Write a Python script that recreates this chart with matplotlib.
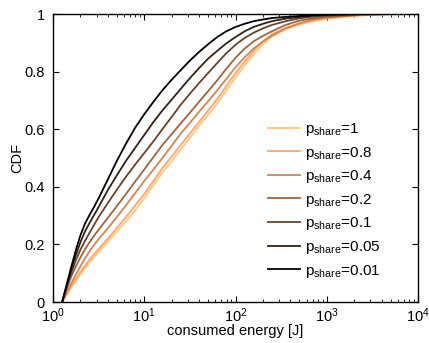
import matplotlib
matplotlib.use("Agg")
import matplotlib.pyplot as plt

plt.rcParams['font.family'] = ['Liberation Sans', 'DejaVu Sans']
plt.rcParams['mathtext.fontset'] = 'custom'
plt.rcParams['mathtext.rm'] = 'Liberation Sans'
plt.rcParams['mathtext.it'] = 'Liberation Sans'
plt.rcParams['mathtext.default'] = 'regular'

# shared energy grid [J]
energy = [1.26, 1.41, 1.58, 1.78, 2.0, 2.24, 2.51, 2.82, 3.16, 3.98, 5.01, 6.31, 7.94,
          10.0, 12.6, 15.8, 20.0, 25.1, 31.6, 39.8, 50.1, 63.1, 79.4, 100.0, 126.0,
          158.0, 200.0, 251.0, 355.0, 501.0, 708.0, 1000.0, 1585.0, 2512.0, 5012.0, 10000.0]

cdf_p001 = [0, 0.06, 0.12, 0.18, 0.232, 0.272, 0.302, 0.33, 0.36, 0.425, 0.49, 0.55, 0.605,
            0.652, 0.695, 0.735, 0.772, 0.805, 0.838, 0.868, 0.895, 0.92, 0.94, 0.955, 0.966,
            0.975, 0.981, 0.986, 0.99, 0.993, 0.996, 0.998, 0.999, 1, 1, 1]
cdf_p005 = [0, 0.055, 0.11, 0.163, 0.208, 0.245, 0.274, 0.302, 0.33, 0.388, 0.44, 0.49, 0.535,
            0.58, 0.625, 0.665, 0.703, 0.74, 0.777, 0.812, 0.845, 0.872, 0.898, 0.92, 0.94,
            0.955, 0.966, 0.975, 0.984, 0.99, 0.994, 0.997, 0.999, 1, 1, 1]
cdf_p01 = [0, 0.05, 0.1, 0.145, 0.182, 0.212, 0.24, 0.268, 0.295, 0.343, 0.39, 0.435, 0.477,
           0.517, 0.558, 0.6, 0.643, 0.685, 0.723, 0.76, 0.795, 0.83, 0.864, 0.893, 0.917,
           0.935, 0.95, 0.962, 0.975, 0.985, 0.991, 0.994, 0.997, 0.999, 1, 1]
cdf_p02 = [0, 0.045, 0.088, 0.124, 0.155, 0.183, 0.207, 0.23, 0.251, 0.292, 0.333, 0.375, 0.418,
           0.46, 0.503, 0.545, 0.583, 0.62, 0.657, 0.695, 0.732, 0.77, 0.81, 0.848, 0.88,
           0.905, 0.924, 0.94, 0.962, 0.977, 0.985, 0.99, 0.994, 0.998, 1, 1]
cdf_p04 = [0, 0.032, 0.064, 0.095, 0.124, 0.151, 0.176, 0.198, 0.218, 0.256, 0.295, 0.336, 0.378,
           0.42, 0.46, 0.5, 0.543, 0.585, 0.622, 0.66, 0.697, 0.735, 0.775, 0.815, 0.85,
           0.88, 0.905, 0.925, 0.95, 0.968, 0.98, 0.987, 0.993, 0.997, 1, 1]
cdf_p08 = [0, 0.028, 0.055, 0.08, 0.104, 0.126, 0.147, 0.166, 0.184, 0.22, 0.257, 0.295, 0.335,
           0.375, 0.42, 0.465, 0.505, 0.545, 0.585, 0.625, 0.665, 0.705, 0.75, 0.795, 0.835,
           0.872, 0.905, 0.93, 0.952, 0.967, 0.978, 0.986, 0.992, 0.996, 0.999, 1]
cdf_p1 = [0, 0.025, 0.05, 0.074, 0.097, 0.118, 0.138, 0.156, 0.174, 0.21, 0.245, 0.28, 0.318,
          0.36, 0.405, 0.45, 0.49, 0.53, 0.57, 0.612, 0.65, 0.69, 0.735, 0.78, 0.822,
          0.86, 0.895, 0.922, 0.947, 0.963, 0.975, 0.984, 0.99, 0.995, 0.999, 1]

labels = ['1', '0.8', '0.4', '0.2', '0.1', '0.05', '0.01']
series = [cdf_p1, cdf_p08, cdf_p04, cdf_p02, cdf_p01, cdf_p005, cdf_p001]
color_levels = [1.0, 5/6, 4/6, 3/6, 2/6, 1/6, 0.0]

fig = plt.figure(figsize=(4.29, 3.43), dpi=100)
ax = fig.add_axes([53/429, 1-302/343, (418-53)/429, (302-14)/343])
cmap = plt.get_cmap('copper')
for lab, ys, c in zip(labels, series, color_levels):
    ax.plot(energy, ys, color=cmap(c), lw=1.3, label=r'p$_{share}$=' + lab)

ax.set_xscale('log')
ax.set_xlim(1, 1e4)
ax.set_ylim(0, 1)
ax.set_yticks([0, 0.2, 0.4, 0.6, 0.8, 1])
ax.set_yticklabels(['0', '0.2', '0.4', '0.6', '0.8', '1'])
ax.tick_params(which='both', direction='in', top=True, right=True, labelsize=10.5)
ax.tick_params(which='major', length=4, width=0.8)
ax.tick_params(which='minor', length=2.2, width=0.6)
ax.tick_params(axis='y', which='major', pad=6)
ax.tick_params(axis='x', which='major', pad=3.5)
for s in ax.spines.values():
    s.set_linewidth(1.0)
ax.set_xlabel('consumed energy [J]', fontsize=10.5)
ax.xaxis.set_label_coords(0.5, (302-324)/288)
ax.set_ylabel('CDF', fontsize=10.5)
ax.yaxis.set_label_coords((24-53)/365, 0.5)

leg = ax.legend(loc='center left', bbox_to_anchor=(0.59, 0.353), frameon=False,
                fontsize=11, handlelength=2.1, handletextpad=0.3,
                labelspacing=0.43, borderpad=0, borderaxespad=0)

fig.savefig('out.png', dpi=100)
